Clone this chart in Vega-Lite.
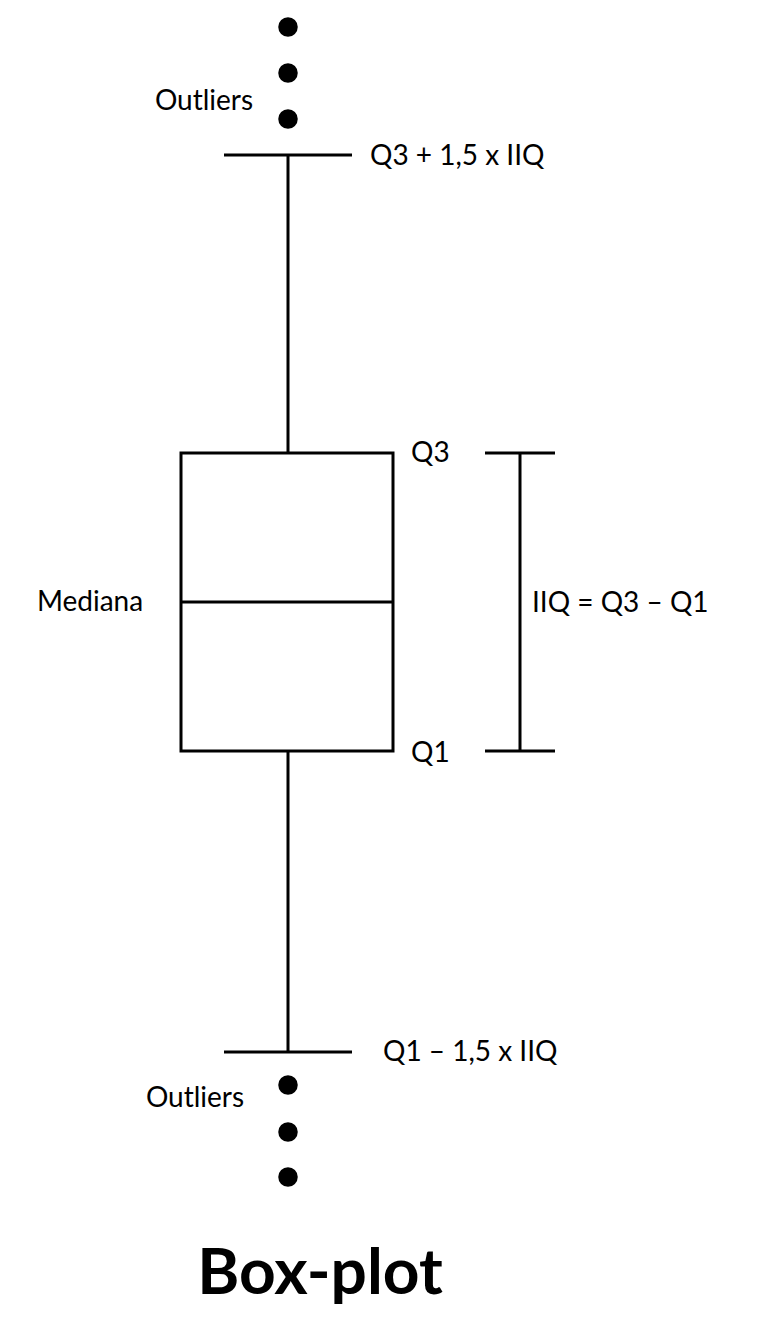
{
  "$schema": "https://vega.github.io/schema/vega-lite/v6.json",
  "width": 758,
  "height": 1324,
  "autosize": {"type": "fit", "contains": "padding"},
  "padding": 0,
  "background": "white",
  "config": {"view": {"stroke": null}},
  "datasets": {
    "segments": [
      {"part": "upper cap", "x": 224, "x2": 352, "y": 155, "y2": 155},
      {"part": "upper whisker", "x": 288, "x2": 288, "y": 155, "y2": 453},
      {"part": "median", "x": 181, "x2": 393, "y": 602, "y2": 602},
      {"part": "lower whisker", "x": 288, "x2": 288, "y": 751, "y2": 1052},
      {"part": "lower cap", "x": 224, "x2": 352, "y": 1052, "y2": 1052},
      {"part": "IIQ bar", "x": 520, "x2": 520, "y": 453, "y2": 751},
      {"part": "IIQ top", "x": 485, "x2": 555, "y": 453, "y2": 453},
      {"part": "IIQ bottom", "x": 485, "x2": 555, "y": 751, "y2": 751}
    ],
    "box": [{"x": 181, "x2": 393, "y": 453, "y2": 751}],
    "outliers": [
      {"x": 288, "y": 27}, {"x": 288, "y": 73}, {"x": 288, "y": 119},
      {"x": 288, "y": 1085}, {"x": 288, "y": 1132}, {"x": 288, "y": 1177}
    ],
    "labels": [
      {"kind": "center", "x": 204, "y": 102, "text": "Outliers"},
      {"kind": "left", "x": 370, "y": 157, "text": "Q3 + 1,5 x IIQ"},
      {"kind": "left", "x": 411, "y": 454, "text": "Q3"},
      {"kind": "center", "x": 90, "y": 603, "text": "Mediana"},
      {"kind": "left", "x": 532, "y": 604, "text": "IIQ = Q3 – Q1"},
      {"kind": "left", "x": 411, "y": 754, "text": "Q1"},
      {"kind": "left", "x": 383, "y": 1053, "text": "Q1 – 1,5 x IIQ"},
      {"kind": "center", "x": 195, "y": 1099, "text": "Outliers"},
      {"kind": "title", "x": 320, "y": 1275, "text": "Box-plot"}
    ]
  },
  "layer": [
    {
      "data": {"name": "box"},
      "mark": {"type": "rect", "fill": null, "stroke": "black", "strokeWidth": 3},
      "encoding": {
        "x": {"field": "x", "type": "quantitative", "scale": {"domain": [0, 758], "nice": false, "zero": false}, "axis": null},
        "x2": {"field": "x2"},
        "y": {"field": "y", "type": "quantitative", "scale": {"domain": [0, 1324], "nice": false, "zero": false, "reverse": true}, "axis": null},
        "y2": {"field": "y2"}
      }
    },
    {
      "data": {"name": "segments"},
      "mark": {"type": "rule", "color": "black", "strokeWidth": 3},
      "encoding": {
        "x": {"field": "x", "type": "quantitative"},
        "x2": {"field": "x2"},
        "y": {"field": "y", "type": "quantitative"},
        "y2": {"field": "y2"}
      }
    },
    {
      "data": {"name": "outliers"},
      "mark": {"type": "circle", "color": "black", "opacity": 1, "size": 380},
      "encoding": {
        "x": {"field": "x", "type": "quantitative"},
        "y": {"field": "y", "type": "quantitative"}
      }
    },
    {
      "data": {"name": "labels"},
      "transform": [{"filter": "datum.kind === 'left'"}],
      "mark": {"type": "text", "align": "left", "baseline": "middle", "font": "Lato", "fontSize": 28, "color": "black"},
      "encoding": {
        "x": {"field": "x", "type": "quantitative"},
        "y": {"field": "y", "type": "quantitative"},
        "text": {"field": "text"}
      }
    },
    {
      "data": {"name": "labels"},
      "transform": [{"filter": "datum.kind === 'center'"}],
      "mark": {"type": "text", "align": "center", "baseline": "middle", "font": "Lato", "fontSize": 28, "color": "black"},
      "encoding": {
        "x": {"field": "x", "type": "quantitative"},
        "y": {"field": "y", "type": "quantitative"},
        "text": {"field": "text"}
      }
    },
    {
      "data": {"name": "labels"},
      "transform": [{"filter": "datum.kind === 'title'"}],
      "mark": {"type": "text", "align": "center", "baseline": "middle", "font": "Lato", "fontSize": 64, "fontWeight": "bold", "color": "black"},
      "encoding": {
        "x": {"field": "x", "type": "quantitative"},
        "y": {"field": "y", "type": "quantitative"},
        "text": {"field": "text"}
      }
    }
  ]
}
